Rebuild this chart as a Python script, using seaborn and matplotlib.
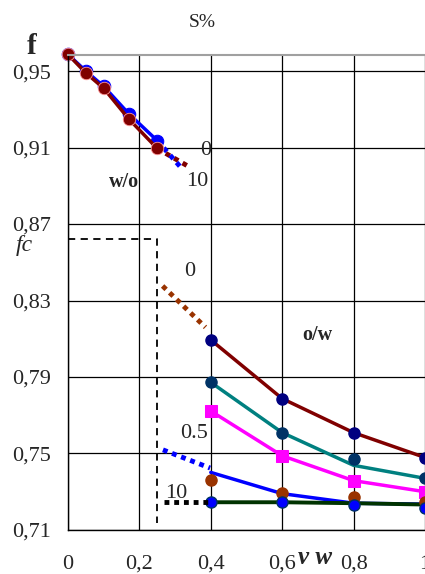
# fc vs water volume fraction chart (w/o and o/w branches)
import matplotlib
matplotlib.use("Agg")
import matplotlib.pyplot as plt
import seaborn as sns

# ------------------------------------------------
# data
# ------------------------------------------------
# w/o branch
wo_x = [0, 0.05, 0.1, 0.17, 0.25]
wo_blue_y = [0.9587, 0.950, 0.942, 0.9277, 0.9136]
wo_red_y = [0.9587, 0.949, 0.941, 0.925, 0.9095]
wo_blue_dot_x = [0.25, 0.319]
wo_blue_dot_y = [0.9136, 0.899]
wo_red_dot_x = [0.25, 0.333]
wo_red_dot_y = [0.9095, 0.9006]

# o/w branch
ow_x = [0.4, 0.6, 0.8, 1.0]
s0_y = [0.8094, 0.7787, 0.7609, 0.7479]
s1_line_y = [0.7872, 0.7609, 0.7438, 0.737]
s1_mark_y = [0.7872, 0.7609, 0.747, 0.737]
s2_y = [0.7722, 0.7488, 0.7358, 0.730]
s3_line_y = [0.7401, 0.729, 0.724, 0.7235]
s3_mark_y = [0.7361, 0.7292, 0.7271, 0.7245]
s4_line_y = [0.7245, 0.7245, 0.724, 0.7233]
s4_mark_y = [0.7245, 0.7245, 0.7233, 0.7216]

# dotted extrapolations toward the critical point
dot0_x = [0.265, 0.385]
dot0_y = [0.8376, 0.816]
dot05_x = [0.266, 0.398]
dot05_y = [0.7519, 0.7424]
dot10_x = [0.27, 0.4]
dot10_y = [0.7245, 0.7245]

# critical fc marker (dashed)
fc_x = [0, 0.25, 0.25]
fc_y = [0.862, 0.862, 0.7136]

y_ticks = [0.71, 0.75, 0.79, 0.83, 0.87, 0.91, 0.95]
y_labels = ["0,71", "0,75", "0,79", "0,83", "0,87", "0,91", "0,95"]
x_ticks = [0, 0.2, 0.4, 0.6, 0.8, 1.0]
x_labels = ["0", "0,2", "0,4", "0,6", "0,8", "1"]

sns.set_style("white")
plt.rcParams['font.family'] = ['Liberation Serif', 'DejaVu Serif']

fig = plt.figure(figsize=(4.25, 5.74), dpi=100)
ax = fig.add_axes([0.16, 0.0767, 0.84, 0.8275])

dot = dict(linestyle=(0, (1, 1)), dash_capstyle='butt', linewidth=3.5)

# w/o curves
sns.lineplot(x=wo_x, y=wo_blue_y, color='#0000FF', marker='o', markersize=9,
             markeredgecolor='#0000FF', linewidth=2.5, ax=ax, clip_on=False)
sns.lineplot(x=wo_red_dot_x, y=wo_red_dot_y, color='#800000', ax=ax, **dot)
sns.lineplot(x=wo_blue_dot_x, y=wo_blue_dot_y, color='#0000FF', ax=ax, **dot)
sns.lineplot(x=wo_x, y=wo_red_y, color='#800000', marker='o', markersize=9,
             markeredgecolor='#FF9999', markeredgewidth=0.6, linewidth=2.5, ax=ax, clip_on=False)

# o/w curves
sns.lineplot(x=ow_x, y=s0_y, color='#800000', linewidth=2.5, ax=ax, clip_on=False)
sns.lineplot(x=ow_x, y=s1_line_y, color='#008080', linewidth=2.5, ax=ax, clip_on=False)
sns.lineplot(x=ow_x, y=s2_y, color='#FF00FF', marker='s', markersize=8,
             markeredgecolor='#FF00FF', linewidth=2.5, ax=ax, clip_on=False)
sns.lineplot(x=ow_x, y=s3_line_y, color='#0000FF', linewidth=2.5, ax=ax, clip_on=False)
sns.lineplot(x=ow_x, y=s4_line_y, color='#003300', linewidth=2.8, ax=ax, clip_on=False)

ax.plot(ow_x, s0_y, linestyle='none', marker='o', markersize=8, color='#000080', clip_on=False)
ax.plot(ow_x, s1_mark_y, linestyle='none', marker='o', markersize=8, color='#003366', clip_on=False)
ax.plot(ow_x, s3_mark_y, linestyle='none', marker='o', markersize=8, color='#993300', clip_on=False)
ax.plot(ow_x, s4_mark_y, linestyle='none', marker='o', markersize=8, color='#0000FF',
        markeredgecolor='#003366', markeredgewidth=1, clip_on=False)

sns.lineplot(x=dot0_x, y=dot0_y, color='#993300', ax=ax, **dot)
sns.lineplot(x=dot05_x, y=dot05_y, color='#0000FF', ax=ax, **dot)
sns.lineplot(x=dot10_x, y=dot10_y, color='#000000', ax=ax, **dot)

ax.plot(fc_x, fc_y, color='black', linestyle=(0, (4, 3)), linewidth=1.3)

# axes styling
ax.set_xlim(0, 1.0)
ax.set_ylim(0.71, 0.9584)
ax.set_xticks(x_ticks)
ax.set_xticklabels(x_labels, fontsize=16)
ax.set_yticks(y_ticks)
ax.set_yticklabels(y_labels, fontsize=16)
ax.tick_params(axis='both', direction='out', length=5, width=0.9, color='black')
ax.tick_params(axis='y', pad=7)
ax.tick_params(axis='x', pad=13)
ax.grid(True, color='black', linewidth=0.9)
ax.set_axisbelow(True)
ax.spines['left'].set_color('black')
ax.spines['bottom'].set_color('black')
ax.spines['top'].set_color('#A0A0A0')
ax.spines['top'].set_linewidth(1.5)
ax.spines['right'].set_visible(False)
for s in ['left', 'bottom']:
    ax.spines[s].set_linewidth(1)

# annotations
ax.text(0.387, 0.9087, "0", fontsize=16, ha='center', va='center')
ax.text(0.361, 0.892, "10", fontsize=16, ha='center', va='center')
ax.text(0.157, 0.892, "w/o", fontsize=14.5, fontweight='bold', ha='center', va='center')
ax.text(0.342, 0.845, "0", fontsize=16, ha='center', va='center')
ax.text(0.353, 0.7607, "0.5", fontsize=16, ha='center', va='center')
ax.text(0.303, 0.7293, "10", fontsize=16, ha='center', va='center')
ax.text(0.698, 0.812, "o/w", fontsize=14.5, fontweight='bold', ha='center', va='center')
ax.text(-0.123, 0.859, "fc", fontsize=17, fontstyle='italic', ha='center', va='center', clip_on=False)
ax.text(-0.101, 0.963, "f", fontsize=21, fontweight='bold', ha='center', va='center', clip_on=False)
ax.text(0.377, 0.9756, "S%", fontsize=14, ha='center', va='center', clip_on=False)
ax.text(0.693, 0.6958, "v w", fontsize=18, fontweight='bold', fontstyle='italic',
        ha='center', va='center', clip_on=False)

fig.savefig("out.png", dpi=100)
